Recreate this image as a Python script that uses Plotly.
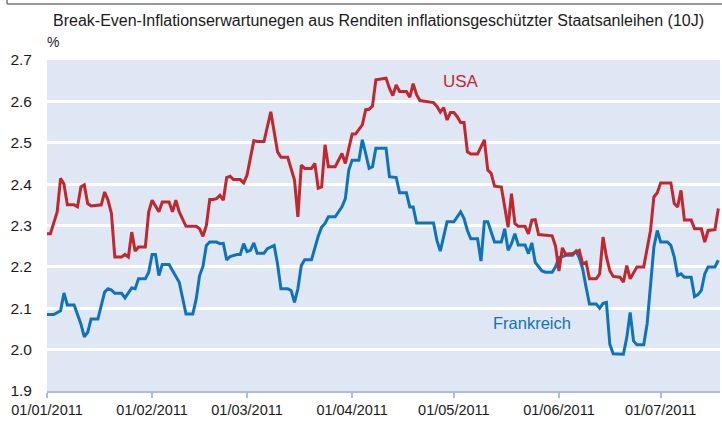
import pandas
import plotly.graph_objects as go

# days counted from 01/01/2011, values in %
usa_day = [0, 1, 3, 4, 5, 6, 8, 9, 10, 11, 12, 13, 16, 17, 18, 19, 20, 22, 23, 24,
           25, 26, 27, 29, 30, 31, 33, 34, 36, 37, 38, 39, 41, 44, 45, 46, 47, 48, 49, 50,
           51, 52, 53, 54, 55, 57, 58, 59, 61, 62, 64, 66, 68, 69, 71, 72, 73, 74, 75, 76,
           78, 79, 80, 81, 82, 83, 85, 87, 88, 90, 91, 93, 94, 95, 96, 97, 99, 100, 101, 102,
           103, 104, 106, 107, 108, 109, 110, 112, 114, 115, 116, 117, 118, 119, 120, 121, 122, 123, 124, 125,
           127, 128, 129, 130, 131, 132, 134, 135, 136, 137, 138, 139, 141, 142, 143, 144, 145, 149, 150, 151,
           152, 153, 154, 155, 157, 158, 159, 160, 162, 163, 164, 165, 166, 167, 169, 170, 171, 172, 173, 174,
           176, 178, 179, 180, 181, 184, 185, 186, 187, 188, 190, 191, 193, 194, 195, 197, 198]
usa = [2.28, 2.28, 2.333, 2.414, 2.40, 2.35, 2.35, 2.345, 2.393, 2.398, 2.353, 2.347, 2.35, 2.381, 2.361, 2.329, 2.224, 2.224, 2.23, 2.224,
       2.284, 2.238, 2.248, 2.248, 2.333, 2.361, 2.333, 2.357, 2.357, 2.333, 2.361, 2.333, 2.298, 2.298, 2.292, 2.274, 2.30, 2.363, 2.363, 2.365,
       2.373, 2.361, 2.416, 2.419, 2.411, 2.411, 2.403, 2.422, 2.505, 2.503, 2.503, 2.575, 2.478, 2.465, 2.465, 2.434, 2.41, 2.321, 2.446, 2.438,
       2.438, 2.45, 2.39, 2.393, 2.495, 2.442, 2.442, 2.474, 2.45, 2.521, 2.521, 2.543, 2.58, 2.581, 2.589, 2.652, 2.654, 2.656, 2.632, 2.614,
       2.64, 2.624, 2.624, 2.61, 2.643, 2.616, 2.602, 2.60, 2.597, 2.588, 2.574, 2.585, 2.555, 2.573, 2.573, 2.563, 2.549, 2.549, 2.478, 2.473,
       2.473, 2.49, 2.507, 2.434, 2.426, 2.395, 2.393, 2.345, 2.296, 2.377, 2.305, 2.298, 2.298, 2.28, 2.313, 2.314, 2.278, 2.275, 2.25, 2.19,
       2.246, 2.23, 2.232, 2.232, 2.24, 2.207, 2.211, 2.171, 2.171, 2.183, 2.272, 2.224, 2.191, 2.177, 2.175, 2.163, 2.203, 2.171, 2.187, 2.20,
       2.20, 2.288, 2.369, 2.379, 2.403, 2.403, 2.353, 2.345, 2.385, 2.313, 2.313, 2.292, 2.292, 2.26, 2.288, 2.29, 2.341]

fr_day = [0, 2, 4, 5, 6, 8, 10, 11, 12, 13, 15, 17, 18, 19, 20, 22, 23, 25, 26, 27,
          29, 30, 31, 32, 33, 34, 36, 37, 39, 41, 43, 44, 45, 46, 47, 48, 50, 51, 52, 53,
          54, 56, 57, 58, 59, 60, 61, 62, 64, 65, 67, 68, 69, 71, 72, 73, 74, 75, 76, 78,
          79, 80, 81, 82, 83, 85, 87, 88, 89, 90, 92, 93, 94, 95, 96, 97, 100, 101, 103, 104,
          106, 107, 108, 109, 114, 115, 116, 118, 120, 121, 122, 123, 124, 125, 127, 128, 129, 130, 132, 134,
          135, 136, 137, 138, 139, 141, 142, 143, 144, 146, 147, 149, 150, 151, 153, 155, 156, 157, 158, 159,
          160, 162, 163, 164, 165, 166, 167, 170, 171, 172, 173, 174, 176, 177, 178, 179, 180, 181, 183, 184,
          185, 186, 187, 188, 190, 191, 192, 193, 194, 195, 197, 198]
fr = [2.085, 2.085, 2.094, 2.137, 2.108, 2.108, 2.062, 2.031, 2.042, 2.074, 2.074, 2.139, 2.147, 2.144, 2.136, 2.136, 2.125, 2.149, 2.147, 2.171,
      2.171, 2.187, 2.23, 2.23, 2.179, 2.206, 2.206, 2.191, 2.163, 2.086, 2.086, 2.122, 2.179, 2.201, 2.252, 2.26, 2.26, 2.256, 2.257, 2.217,
      2.225, 2.23, 2.23, 2.256, 2.237, 2.24, 2.258, 2.233, 2.233, 2.244, 2.252, 2.207, 2.147, 2.147, 2.143, 2.114, 2.147, 2.203, 2.217, 2.217,
      2.248, 2.274, 2.296, 2.305, 2.321, 2.321, 2.345, 2.365, 2.434, 2.458, 2.458, 2.507, 2.474, 2.438, 2.442, 2.487, 2.487, 2.418, 2.416, 2.379,
      2.379, 2.345, 2.345, 2.306, 2.306, 2.264, 2.238, 2.309, 2.309, 2.321, 2.333, 2.317, 2.288, 2.268, 2.268, 2.214, 2.309, 2.309, 2.26, 2.26,
      2.292, 2.24, 2.256, 2.28, 2.253, 2.253, 2.232, 2.258, 2.211, 2.19, 2.187, 2.187, 2.20, 2.222, 2.228, 2.228, 2.238, 2.222, 2.195, 2.151,
      2.11, 2.11, 2.10, 2.112, 2.114, 2.013, 1.99, 1.989, 2.029, 2.09, 2.021, 2.012, 2.012, 2.062, 2.159, 2.248, 2.288, 2.26, 2.26, 2.252,
      2.224, 2.179, 2.183, 2.175, 2.175, 2.128, 2.133, 2.143, 2.183, 2.20, 2.20, 2.216]

month_ticks = ["2011-01-01", "2011-02-01", "2011-03-01", "2011-04-01", "2011-05-01", "2011-06-01", "2011-07-01"]
month_labels = ["01/01/2011", "01/02/2011", "01/03/2011", "01/04/2011", "01/05/2011", "01/06/2011", "01/07/2011"]

start = pandas.Timestamp("2011-01-01")
usa_dates = start + pandas.to_timedelta(usa_day, unit="D")
fr_dates = start + pandas.to_timedelta(fr_day, unit="D")

red = "#c1272d"
blue = "#0f73ba"
font = "Liberation Sans, Arial, sans-serif"

fig = go.Figure()
fig.add_trace(go.Scatter(x=fr_dates, y=fr, mode="lines", name="Frankreich",
                         line=dict(color=blue, width=3)))
fig.add_trace(go.Scatter(x=usa_dates, y=usa, mode="lines", name="USA",
                         line=dict(color=red, width=3)))

fig.add_annotation(x=0.006, y=1.118, xref="paper", yref="paper", xanchor="left", yanchor="middle",
                   text="Break-Even-Inflationserwartunegen aus Renditen inflationsgeschützter Staatsanleihen (10J)",
                   showarrow=False, font=dict(size=16, color="#1a1a1a"))
fig.add_annotation(x=-0.003, y=1.054, xref="paper", yref="paper", xanchor="left", yanchor="middle",
                   text="%", showarrow=False, font=dict(size=14, color="#1a1a1a"))
fig.add_annotation(x=0.615, y=0.935, xref="paper", yref="paper", xanchor="center", yanchor="middle",
                   text="USA", showarrow=False, font=dict(size=17, color=red))
fig.add_annotation(x=0.72, y=0.205, xref="paper", yref="paper", xanchor="center", yanchor="middle",
                   text="Frankreich", showarrow=False, font=dict(size=16.5, color=blue))

# thin frame edge at the top of the picture
fig.add_shape(type="line", xref="paper", yref="paper", x0=-0.0594, x1=1.01, y0=1.169, y1=1.169,
              line=dict(color="#777777", width=1.5))
fig.add_shape(type="line", xref="paper", yref="paper", x0=-0.0594, x1=-0.0594, y0=1.169, y1=1.185,
              line=dict(color="#777777", width=1.5))

fig.update_layout(
    width=722, height=421,
    margin=dict(l=47, r=2, t=60, b=30),
    paper_bgcolor="white", plot_bgcolor="#dfe7f4",
    showlegend=False,
    font=dict(family=font, color="#1a1a1a"),
    xaxis=dict(range=["2011-01-01", "2011-07-18 12:00"], tickvals=month_ticks, ticktext=month_labels,
               showgrid=False, zeroline=False, showline=True, linecolor="#a8bedb", linewidth=1.5,
               ticks="outside", ticklen=5, tickcolor="#a8bedb", tickwidth=1.5,
               tickfont=dict(size=14.5, color="#1a1a1a")),
    yaxis=dict(range=[1.9, 2.7], dtick=0.1, tickformat=".1f", showgrid=True, gridcolor="white", gridwidth=3,
               zeroline=False, showline=False, ticks="", ticklabelstandoff=14,
               tickfont=dict(size=15.5, color="#1a1a1a")),
)

# page body has a default margin; drop it so the chart fills the window
fig.write_html("out.html", config={"displayModeBar": False},
               post_script="document.body.style.margin='0';")
